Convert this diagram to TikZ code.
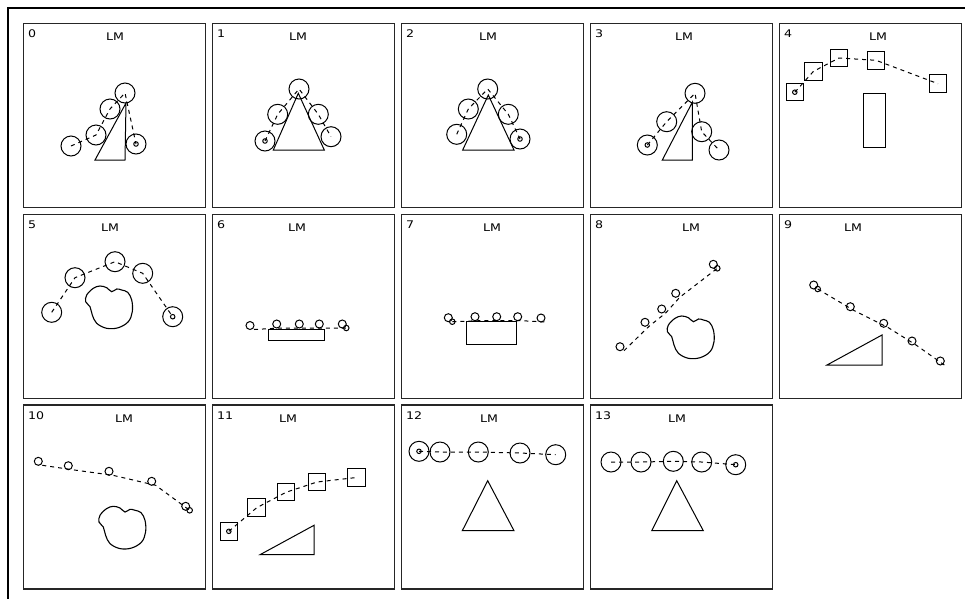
\documentclass[tikz,border=0pt]{standalone}
\usepackage{fontspec}
\newfontfamily\lblfont[FakeStretch=1.2]{DejaVu Sans}
\usetikzlibrary{calc}
\begin{document}
\begin{tikzpicture}[x=1pt,y=-1pt,line width=1pt,
  panel/.style={draw=black!85,line width=1.2pt},
  bigrob/.style={circle,draw,minimum size=20pt,inner sep=0pt},
  sqrob/.style={rectangle,draw,minimum size=17.5pt,inner sep=0pt},
  smallrob/.style={circle,draw,minimum size=8pt,inner sep=0pt},
  startmark/.style={circle,draw,minimum size=4.5pt,inner sep=0pt},
  link/.style={dash pattern=on 4pt off 4pt},
  lm/.style={font=\lblfont\fontsize{10.5}{11}\selectfont,inner sep=0pt},
  num/.style={font=\lblfont\fontsize{10.5}{11}\selectfont,inner sep=0pt,anchor=west}]
\useasboundingbox (0,0) rectangle (965,598);
\draw[line width=2.5pt] (8,8) rectangle (985,620);
% panels
\foreach \r/\yy in {0/23.5,1/214.5,2/405}{
  \foreach \c in {0,...,4}{
    \pgfmathtruncatemacro{\k}{\r*5+\c}
    \ifnum\k<14
      \draw[panel] ({23.5+189*\c},\yy) rectangle ++(182,184);
      \node[num] (n\k) at ({27.5+189*\c},{\yy+10.5}) {\k};
    \fi
  }
}
% LM labels
\node[lm] (lm0) at (115,37) {LM};
\node[lm] (lm1) at (298,37) {LM};
\node[lm] (lm2) at (488,37) {LM};
\node[lm] (lm3) at (684,37) {LM};
\node[lm] (lm4) at (878,37) {LM};
\node[lm] (lm5) at (110,228) {LM};
\node[lm] (lm6) at (297,228) {LM};
\node[lm] (lm7) at (492,228) {LM};
\node[lm] (lm8) at (691,228) {LM};
\node[lm] (lm9) at (853,228) {LM};
\node[lm] (lm10) at (124,418.5) {LM};
\node[lm] (lm11) at (288,418.5) {LM};
\node[lm] (lm12) at (489,418.5) {LM};
\node[lm] (lm13) at (677,418.5) {LM};

% ---------- panel 0
\draw (95,160) -- (125,160) -- (126,103) -- cycle;
\node[bigrob] (a0) at (71,146) {};
\node[bigrob] (b0) at (96,135) {};
\node[bigrob] (c0) at (110,109) {};
\node[bigrob] (d0) at (125,93) {};
\node[bigrob] (e0) at (136,144) {};
\node[startmark] (m0) at (e0.center) {};
\draw[link] (a0.center) -- (b0.center) -- (c0.center) -- (d0.center) -- (e0.center);

% ---------- panel 1
\draw (273.3,150) -- (324.3,150) -- (298.3,93.3) -- cycle;
\node[bigrob] (a1) at (265,141) {};
\node[bigrob] (b1) at (277.7,114.3) {};
\node[bigrob] (c1) at (299,89) {};
\node[bigrob] (d1) at (318.3,114.3) {};
\node[bigrob] (e1) at (331,136.7) {};
\node[startmark] (m1) at (a1.center) {};
\draw[link] (a1.center) -- (b1.center) -- (c1.center) -- (d1.center) -- (e1.center);

% ---------- panel 2
\draw (462.7,150) -- (514,150) -- (488.3,95) -- cycle;
\node[bigrob] (a2) at (456.7,134.3) {};
\node[bigrob] (b2) at (468.3,109) {};
\node[bigrob] (c2) at (487.7,89) {};
\node[bigrob] (d2) at (508.3,114.3) {};
\node[bigrob] (e2) at (520,139) {};
\node[startmark] (m2) at (e2.center) {};
\draw[link] (a2.center) -- (b2.center) -- (c2.center) -- (d2.center) -- (e2.center);

% ---------- panel 3
\draw (662.3,160) -- (692.3,160) -- (692.3,102.3) -- cycle;
\node[bigrob] (a3) at (647.3,145) {};
\node[bigrob] (b3) at (666.7,121.7) {};
\node[bigrob] (c3) at (695,93.3) {};
\node[bigrob] (d3) at (701.7,131.7) {};
\node[bigrob] (e3) at (719,150) {};
\node[startmark] (m3) at (a3.center) {};
\draw[link] (a3.center) -- (b3.center) -- (c3.center) -- (d3.center) -- (e3.center);

% ---------- panel 4
\draw (863.7,93.3) rectangle (885.3,147.7);
\node[sqrob] (a4) at (794.8,92.2) {};
\node[sqrob] (b4) at (813.5,71.3) {};
\node[sqrob] (c4) at (839,58) {};
\node[sqrob] (d4) at (876,60.3) {};
\node[sqrob] (e4) at (938,83.7) {};
\node[startmark] (m4) at (a4.center) {};
\draw[link] (a4.center) -- (b4.center) -- (c4.center) -- (d4.center) -- (e4.center);

% ---------- panel 5
\begin{scope}[shift={(85,285)}]
\draw[line width=1.1pt] plot[smooth cycle,tension=0.6] coordinates {(8.3,3.3) (15,1) (21.7,2.7) (26.7,6.7) (31.7,4) (36.7,5) (42.7,7.3) (46.7,15) (47.3,26.7) (43.3,36.7) (33.3,42.7) (21.7,43.3) (11.7,38.3) (7.3,30) (5,21.7) (0.7,16.7) (1.7,10)};
\end{scope}
\node[bigrob] (a5) at (51.7,312.3) {};
\node[bigrob] (b5) at (75,277.7) {};
\node[bigrob] (c5) at (115,261.7) {};
\node[bigrob] (d5) at (142.7,273.3) {};
\node[bigrob] (e5) at (172.7,316.7) {};
\node[startmark] (m5) at (e5.center) {};
\draw[link] (a5.center) -- (b5.center) -- (c5.center) -- (d5.center) -- (e5.center);

% ---------- panel 6
\draw (268.3,329) rectangle (324.3,340);
\coordinate (a6) at (254,329.5);
\coordinate (b6) at (280.7,328);
\coordinate (c6) at (303.3,328);
\coordinate (d6) at (323.3,328);
\coordinate (e6) at (346.3,328);
\foreach \p in {a6,b6,c6,d6,e6}{\node[smallrob] (\p r) at ($(\p)+(-4,-4)$) {};}
\node[startmark,minimum size=5.5pt] (m6) at (e6) {};
\draw[link] (a6) -- (b6) -- (c6) -- (d6) -- (e6);

% ---------- panel 7
\draw (466,321) rectangle (516.7,344.3);
\coordinate (a7) at (452.3,321.7);
\coordinate (b7) at (479,320.7);
\coordinate (c7) at (500.7,320.7);
\coordinate (d7) at (521.7,320.7);
\coordinate (e7) at (545,322);
\foreach \p in {a7,b7,c7,d7,e7}{\node[smallrob] (\p r) at ($(\p)+(-4,-4)$) {};}
\node[startmark,minimum size=5.5pt] (m7) at (a7) {};
\draw[link] (a7) -- (b7) -- (c7) -- (d7) -- (e7);

% ---------- panel 8
\begin{scope}[shift={(666.7,315)}]
\draw[line width=1.1pt] plot[smooth cycle,tension=0.6] coordinates {(8.3,3.3) (15,1) (21.7,2.7) (26.7,6.7) (31.7,4) (36.7,5) (42.7,7.3) (46.7,15) (47.3,26.7) (43.3,36.7) (33.3,42.7) (21.7,43.3) (11.7,38.3) (7.3,30) (5,21.7) (0.7,16.7) (1.7,10)};
\end{scope}
\coordinate (a8) at (624,350.7);
\coordinate (b8) at (649,326.3);
\coordinate (c8) at (665.7,313);
\coordinate (d8) at (679.7,297.3);
\coordinate (e8) at (717.3,268.3);
\foreach \p in {a8,b8,c8,d8,e8}{\node[smallrob] (\p r) at ($(\p)+(-4,-4)$) {};}
\node[startmark,minimum size=5.5pt] (m8) at (e8) {};
\draw[link] (a8) -- (b8) -- (c8) -- (d8) -- (e8);

% ---------- panel 9
\draw (827,365) -- (882,365) -- (882,335) -- cycle;
\coordinate (a9) at (817.7,289);
\coordinate (b9) at (854.3,310.7);
\coordinate (c9) at (887.7,327.3);
\coordinate (d9) at (916,345);
\coordinate (e9) at (944.3,365);
\foreach \p in {a9,b9,c9,d9,e9}{\node[smallrob] (\p r) at ($(\p)+(-4,-4)$) {};}
\node[startmark,minimum size=5.5pt] (m9) at (a9) {};
\draw[link] (a9) -- (b9) -- (c9) -- (d9) -- (e9);

% ---------- panel 10
\begin{scope}[shift={(98.3,505.3)}]
\draw[line width=1.1pt] plot[smooth cycle,tension=0.6] coordinates {(8.3,3.3) (15,1) (21.7,2.7) (26.7,6.7) (31.7,4) (36.7,5) (42.7,7.3) (46.7,15) (47.3,26.7) (43.3,36.7) (33.3,42.7) (21.7,43.3) (11.7,38.3) (7.3,30) (5,21.7) (0.7,16.7) (1.7,10)};
\end{scope}
\coordinate (a10) at (42.3,465.3);
\coordinate (b10) at (72.3,469.7);
\coordinate (c10) at (113,475.3);
\coordinate (d10) at (155.7,485.3);
\coordinate (e10) at (189.7,510.3);
\foreach \p in {a10,b10,c10,d10,e10}{\node[smallrob] (\p r) at ($(\p)+(-4,-4)$) {};}
\node[startmark,minimum size=5.5pt] (m10) at (e10) {};
\draw[link] (a10) -- (b10) -- (c10) -- (d10) -- (e10);

% ---------- panel 11
\draw (260,554.7) -- (314,554.7) -- (314,525.3) -- cycle;
\node[sqrob] (a11) at (228.8,531.3) {};
\node[sqrob] (b11) at (256.7,507.7) {};
\node[sqrob] (c11) at (286.2,492.2) {};
\node[sqrob] (d11) at (317,482) {};
\node[sqrob] (e11) at (356.3,477.5) {};
\node[startmark] (m11) at (a11.center) {};
\draw[link] (a11.center) -- (b11.center) -- (c11.center) -- (d11.center) -- (e11.center);

% ---------- panel 12
\draw (462.3,530.7) -- (514,530.7) -- (487.7,480.7) -- cycle;
\node[bigrob] (a12) at (419,451.3) {};
\node[bigrob] (b12) at (440,452) {};
\node[bigrob] (c12) at (478.3,452) {};
\node[bigrob] (d12) at (520,453) {};
\node[bigrob] (e12) at (555.7,454.7) {};
\node[startmark] (m12) at (a12.center) {};
\draw[link] (a12.center) -- (b12.center) -- (c12.center) -- (d12.center) -- (e12.center);

% ---------- panel 13
\draw (651.7,530.7) -- (703.3,530.7) -- (676.7,480.7) -- cycle;
\node[bigrob] (a13) at (611,462) {};
\node[bigrob] (b13) at (641,462) {};
\node[bigrob] (c13) at (673.3,461.3) {};
\node[bigrob] (d13) at (701.7,462) {};
\node[bigrob] (e13) at (735.7,464.7) {};
\node[startmark] (m13) at (e13.center) {};
\draw[link] (a13.center) -- (b13.center) -- (c13.center) -- (d13.center) -- (e13.center);
\end{tikzpicture}
\end{document}
